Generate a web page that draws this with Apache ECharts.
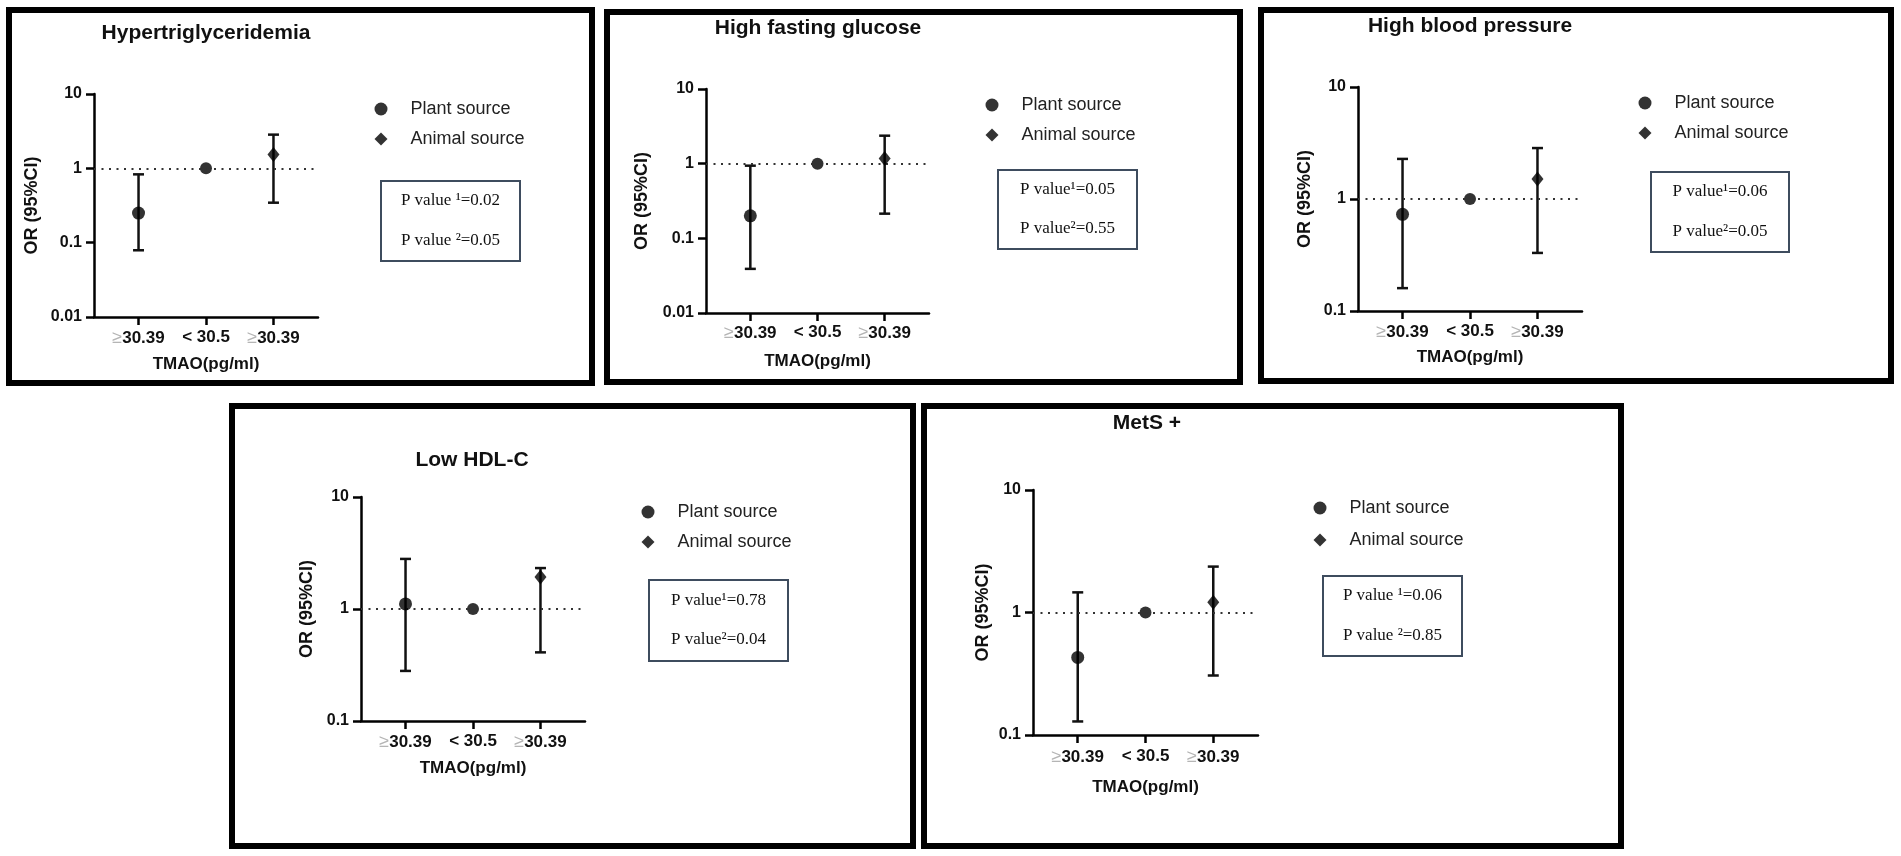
<!DOCTYPE html>
<html>
<head>
<meta charset="utf-8">
<title>TMAO and metabolic syndrome components</title>
<script src="https://cdn.jsdelivr.net/npm/echarts@6.0.0/dist/echarts.min.js"></script>
<style>
html, body { margin: 0; padding: 0; background: #fff; }
#container { width: 1901px; height: 856px; }
</style>
</head>
<body>
<div id="container"></div>
<script>
// values (OR and 95% CI, log scale)
var panelTitles = ['Hypertriglyceridemia', 'High fasting glucose', 'High blood pressure', 'Low HDL-C', 'MetS +'];
var categories = ['≥30.39', '< 30.5', '≥30.39'];
var plantOR   = [0.25, 0.20, 0.73, 1.11, 0.43];
var plantLow  = [0.079, 0.039, 0.16, 0.28, 0.129];
var plantHigh = [0.83, 0.94, 2.28, 2.8, 1.46];
var refOR     = [1, 1, 1, 1, 1];
var animalOR   = [1.54, 1.17, 1.51, 1.93, 1.21];
var animalLow  = [0.345, 0.214, 0.33, 0.41, 0.306];
var animalHigh = [2.84, 2.37, 2.85, 2.32, 2.37];
var yMin = [0.01, 0.01, 0.1, 0.1, 0.1];
var pValue1 = ['P value \u00b9=0.02', 'P value\u00b9=0.05', 'P value\u00b9=0.06', 'P value\u00b9=0.78', 'P value \u00b9=0.06'];
var pValue2 = ['P value \u00b2=0.05', 'P value\u00b2=0.55', 'P value\u00b2=0.05', 'P value\u00b2=0.04', 'P value \u00b2=0.85'];
var yAxisName = 'OR (95%CI)';
var xAxisName = 'TMAO(pg/ml)';

// layout of each panel (pixels)
var layout = [
    { frame: [9, 10, 583, 373],  grid: [94, 94, 224, 223],   title: [206, 33],  legend: [374.5, 100, 12], box: [381, 181, 139, 80],  yGap: 53, xGap: 39, margin: 12 },
    { frame: [607, 12, 633, 370], grid: [706, 89, 223, 224],  title: [818, 28],  legend: [985.5, 96, 12],  box: [998, 170, 139, 79],  yGap: 55, xGap: 40, margin: 11 },
    { frame: [1261, 10, 630, 371], grid: [1358, 87, 224, 224], title: [1470, 26], legend: [1638.5, 94, 12], box: [1651, 172, 138, 80], yGap: 44, xGap: 38, margin: 12 },
    { frame: [232, 406, 681, 440], grid: [361, 497, 224, 224], title: [472, 460], legend: [641.5, 503, 12], box: [649, 580, 139, 81], yGap: 45, xGap: 39, margin: 12 },
    { frame: [924, 406, 697, 440], grid: [1033, 490, 225, 245], title: [1147, 423], legend: [1313.5, 499, 14], box: [1323, 576, 139, 80], yGap: 41, xGap: 44, margin: 13 }
];

var sans = 'Liberation Sans, Arial, sans-serif';
var serif = 'Liberation Serif, Times New Roman, serif';

var dom = document.getElementById('container');
var myChart = echarts.init(dom, null, { renderer: 'canvas' });

function renderCI(params, api) {
    var x = api.value(0);
    var lo = api.coord([x, api.value(1)]);
    var hi = api.coord([x, api.value(2)]);
    var cap = 5.5;
    var style = { stroke: '#111', lineWidth: 2.5 };
    return {
        type: 'group',
        children: [
            { type: 'line', shape: { x1: lo[0], y1: lo[1], x2: hi[0], y2: hi[1] }, style: style },
            { type: 'line', shape: { x1: lo[0] - cap, y1: lo[1], x2: lo[0] + cap, y2: lo[1] }, style: style },
            { type: 'line', shape: { x1: hi[0] - cap, y1: hi[1], x2: hi[0] + cap, y2: hi[1] }, style: style }
        ]
    };
}

function xLabel(v) {
    var s = categories[Math.round(v) - 1];
    if (!s) return '';
    if (s.charAt(0) === '≥') return '{ge|≥}' + s.slice(1);
    return s;
}

function yLabel(v) {
    return String(Number(v.toPrecision(2)));
}

var grids = [], xAxes = [], yAxes = [], titles = [], legends = [], series = [], graphics = [];

for (var i = 0; i < 5; i++) {
    var L = layout[i];
    grids.push({ left: L.grid[0], top: L.grid[1], width: L.grid[2], height: L.grid[3], containLabel: false });

    xAxes.push({
        gridIndex: i,
        type: 'value',
        min: 0.34,
        max: 3.66,
        name: xAxisName,
        nameLocation: 'middle',
        nameGap: L.xGap,
        nameTextStyle: { fontFamily: sans, fontWeight: 'bold', fontSize: 17, color: '#111' },
        axisLine: { onZero: false, lineStyle: { color: '#000', width: 2.5 } },
        axisTick: { customValues: [1, 2, 3], length: 8, lineStyle: { color: '#000', width: 2.5 } },
        axisLabel: {
            customValues: [1, 2, 3],
            formatter: xLabel,
            margin: L.margin,
            fontFamily: sans, fontWeight: 'bold', fontSize: 17, color: '#111',
            rich: { ge: { color: '#b5b5b5', fontWeight: 'normal', fontSize: 18 } }
        },
        splitLine: { show: false }
    });

    yAxes.push({
        gridIndex: i,
        type: 'log',
        logBase: 10,
        min: yMin[i],
        max: 10,
        name: yAxisName,
        nameLocation: 'middle',
        nameGap: L.yGap,
        nameRotate: 90,
        nameTextStyle: { fontFamily: sans, fontWeight: 'bold', fontSize: 18, color: '#111' },
        axisLine: { show: true, onZero: false, lineStyle: { color: '#000', width: 2.5 } },
        axisTick: { show: true, length: 8, lineStyle: { color: '#000', width: 2.5 } },
        axisLabel: { formatter: yLabel, margin: 12, fontFamily: sans, fontWeight: 'bold', fontSize: 16, color: '#111' },
        splitLine: { show: false }
    });

    titles.push({
        text: panelTitles[i],
        left: L.title[0],
        top: L.title[1] - 12,
        textAlign: 'center',
        padding: 0,
        textStyle: { fontFamily: sans, fontWeight: 'bold', fontSize: 21, lineHeight: 24, color: '#111' }
    });

    legends.push({
        orient: 'vertical',
        left: L.legend[0],
        top: L.legend[1],
        padding: 0,
        itemWidth: 13,
        itemHeight: 13,
        itemGap: L.legend[2],
        selectedMode: false,
        textStyle: { fontFamily: sans, fontSize: 18, lineHeight: 18, color: '#222', padding: [0, 0, 0, 18] },
        data: [
            { name: 'Plant source', icon: 'circle' },
            { name: 'Animal source', icon: 'diamond' }
        ]
    });

    series.push({
        type: 'custom',
        name: '95% CI',
        xAxisIndex: i,
        yAxisIndex: i,
        renderItem: renderCI,
        encode: { x: 0, y: [1, 2] },
        data: [[1, plantLow[i], plantHigh[i]], [3, animalLow[i], animalHigh[i]]],
        silent: true,
        z: 3
    });
    series.push({
        type: 'scatter',
        name: 'Reference',
        xAxisIndex: i,
        yAxisIndex: i,
        symbol: 'circle',
        symbolSize: 12,
        itemStyle: { color: '#000' },
        data: [[2, refOR[i]]],
        z: 4,
        markLine: {
            silent: true,
            symbol: 'none',
            label: { show: false },
            lineStyle: { color: '#333', width: 2, type: [2, 5.5] },
            data: [{ yAxis: 1 }]
        }
    });
    series.push({
        type: 'scatter',
        name: 'Plant source',
        xAxisIndex: i,
        yAxisIndex: i,
        symbol: 'circle',
        symbolSize: 13,
        itemStyle: { color: '#000' },
        data: [[1, plantOR[i]]],
        z: 5
    });
    series.push({
        type: 'scatter',
        name: 'Animal source',
        xAxisIndex: i,
        yAxisIndex: i,
        symbol: 'diamond',
        symbolSize: [12, 15],
        itemStyle: { color: '#000' },
        data: [[3, animalOR[i]]],
        z: 5
    });

    // panel frame
    graphics.push({
        type: 'rect',
        shape: { x: L.frame[0], y: L.frame[1], width: L.frame[2], height: L.frame[3] },
        style: { fill: 'none', stroke: '#000', lineWidth: 6 },
        silent: true
    });
    // p value box
    var b = L.box;
    graphics.push({
        type: 'rect',
        shape: { x: b[0], y: b[1], width: b[2], height: b[3] },
        style: { fill: '#fff', stroke: '#3e4c5e', lineWidth: 2 },
        silent: true
    });
    graphics.push({
        type: 'text',
        x: b[0] + b[2] / 2,
        y: b[1] + b[3] * 0.25,
        style: { text: pValue1[i], fontFamily: serif, fontSize: 17, fill: '#111', align: 'center', verticalAlign: 'middle' },
        silent: true
    });
    graphics.push({
        type: 'text',
        x: b[0] + b[2] / 2,
        y: b[1] + b[3] * 0.74,
        style: { text: pValue2[i], fontFamily: serif, fontSize: 17, fill: '#111', align: 'center', verticalAlign: 'middle' },
        silent: true
    });
}

var option = {
    backgroundColor: '#fff',
    animation: false,
    title: titles,
    legend: legends,
    grid: grids,
    xAxis: xAxes,
    yAxis: yAxes,
    series: series,
    graphic: graphics
};

myChart.setOption(option);
</script>
</body>
</html>
